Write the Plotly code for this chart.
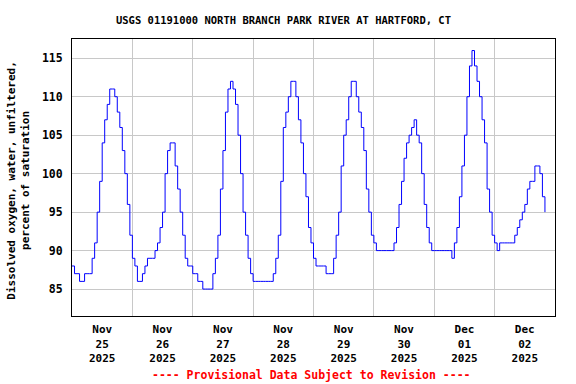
import pandas as pd
import plotly.graph_objects as go

# Hourly dissolved oxygen readings (% saturation)
nov25 = [88, 87, 87, 86, 86, 87, 87, 87, 89, 91, 95, 99, 104, 107, 109, 111, 111, 110, 108, 106, 103, 100, 96, 92]
nov26 = [89, 88, 86, 86, 87, 88, 89, 89, 89, 90, 91, 93, 95, 100, 103, 104, 104, 101, 98, 95, 92, 89, 88, 88]
nov27 = [87, 87, 86, 86, 85, 85, 85, 85, 87, 89, 92, 98, 103, 108, 111, 112, 111, 109, 105, 100, 95, 92, 89, 87]
nov28 = [86, 86, 86, 86, 86, 86, 86, 86, 87, 89, 92, 99, 106, 108, 110, 112, 112, 110, 107, 104, 100, 97, 93, 91]
nov29 = [89, 88, 88, 88, 88, 87, 87, 87, 89, 92, 95, 101, 105, 107, 110, 112, 112, 110, 108, 106, 103, 98, 95, 92]
nov30 = [91, 90, 90, 90, 90, 90, 90, 90, 91, 93, 96, 99, 102, 104, 105, 106, 107, 105, 104, 100, 96, 93, 91, 90]
dec01 = [90, 90, 90, 90, 90, 90, 90, 89, 91, 93, 97, 101, 105, 110, 114, 116, 114, 112, 110, 107, 104, 98, 95, 92]
dec02 = [91, 90, 91, 91, 91, 91, 91, 91, 92, 93, 94, 95, 96, 98, 99, 99, 101, 101, 100, 97, 95]

start_time = "2025-11-25 00:00"
day_starts = ["2025-11-25", "2025-11-26", "2025-11-27", "2025-11-28",
              "2025-11-29", "2025-11-30", "2025-12-01", "2025-12-02", "2025-12-03"]
label_times = ["2025-11-25 12:00", "2025-11-26 12:00", "2025-11-27 12:00", "2025-11-28 12:00",
               "2025-11-29 12:00", "2025-11-30 12:00", "2025-12-01 12:00", "2025-12-02 12:00"]
tick_labels = ["Nov<br>25<br>2025", "Nov<br>26<br>2025", "Nov<br>27<br>2025", "Nov<br>28<br>2025",
               "Nov<br>29<br>2025", "Nov<br>30<br>2025", "Dec<br>01<br>2025", "Dec<br>02<br>2025"]
y_ticks = [85, 90, 95, 100, 105, 110, 115]

values = nov25 + nov26 + nov27 + nov28 + nov29 + nov30 + dec01 + dec02
times = pd.date_range(start_time, periods=len(values), freq="h")

FONT = "DejaVu Sans Mono"
W, H = 576, 384
L, R, T, B = 71.7, 21.3, 39.3, 68

fig = go.Figure()
fig.add_trace(go.Scatter(x=times, y=values, mode="lines", line=dict(color="#0000ff", width=1, shape="hv"),
                         showlegend=False, hoverinfo="skip"))

fig.update_layout(
    width=W, height=H,
    margin=dict(l=L, r=R, t=T, b=B, autoexpand=False),
    paper_bgcolor="white", plot_bgcolor="white",
    font=dict(family=FONT, color="black"),
    title=dict(text="<b>USGS 01191000 NORTH BRANCH PARK RIVER AT HARTFORD, CT</b>",
               x=283.5 / W, xanchor="center", y=1 - 20.3 / H, yanchor="middle",
               font=dict(family=FONT, size=10.5, color="black")),
    xaxis=dict(
        range=[day_starts[0], day_starts[-1]],
        tickmode="array", tickvals=label_times,
        ticktext=["<b>" + t.replace("<br>", "</b><br><b>") + "</b>" for t in tick_labels],
        showgrid=False, ticks="outside", ticklen=3, tickcolor="rgba(0,0,0,0)",
        tickfont=dict(family=FONT, size=11, color="black"),
        showline=True, mirror=True, linecolor="black", linewidth=1,
        minor=dict(tickmode="array", tickvals=day_starts, showgrid=True, gridcolor="#c8c8c8", gridwidth=1, ticks=""),
        zeroline=False, automargin=False,
    ),
    yaxis=dict(
        range=[81.5, 117.5],
        tickmode="array", tickvals=y_ticks, ticktext=["<b>%d</b>" % v for v in y_ticks],
        showgrid=True, gridcolor="#c8c8c8", gridwidth=1,
        ticks="outside", ticklen=6, tickcolor="rgba(0,0,0,0)",
        tickfont=dict(family=FONT, size=11.5, color="black"),
        showline=True, mirror=True, linecolor="black", linewidth=1,
        zeroline=False, automargin=False,
    ),
)

fig.add_annotation(
    text="<b>Dissolved oxygen, water, unfiltered,</b><br><b>percent of saturation</b>",
    xref="paper", yref="paper", x=(18.5 - L) / (W - L - R), y=1 - (181 - T) / (H - T - B),
    xanchor="center", yanchor="middle", textangle=-90, showarrow=False,
    font=dict(family=FONT, size=11, color="black"),
)
fig.add_annotation(
    text="<b>---- Provisional Data Subject to Revision ----</b>",
    xref="paper", yref="paper", x=(311.5 - L) / (W - L - R), y=-(375 - (H - B)) / (H - T - B),
    xanchor="center", yanchor="middle", showarrow=False,
    font=dict(family=FONT, size=11.5, color="#ff0000"),
)

fig.write_html("out.html", config={"displayModeBar": False},
               post_script="document.body.style.margin='0px';")
